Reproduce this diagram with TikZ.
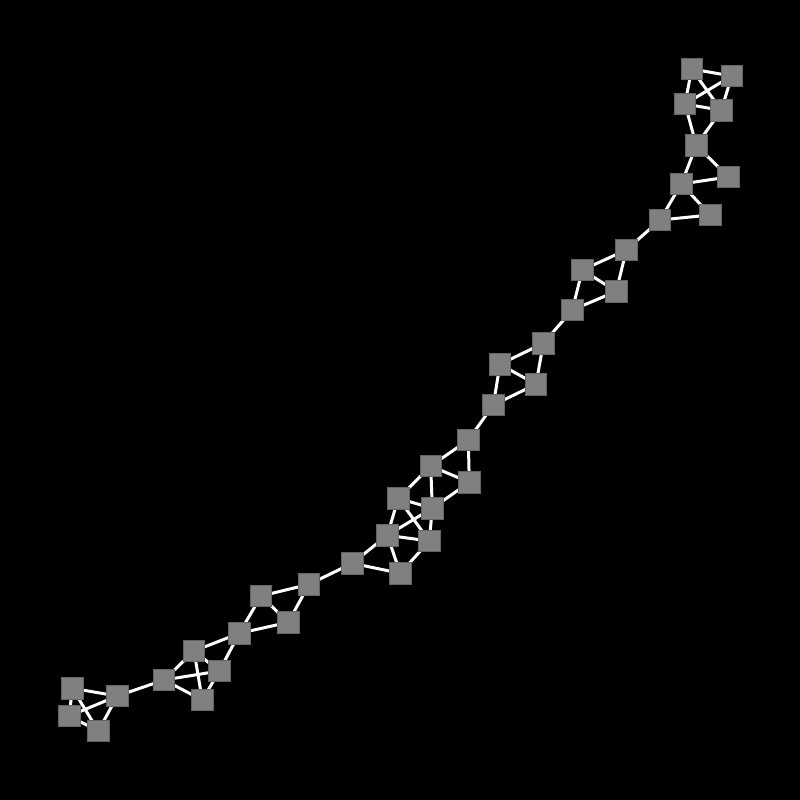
\documentclass[tikz,border=0pt]{standalone}
\begin{document}
\begin{tikzpicture}[x=0.01cm,y=-0.01cm,
  sq/.style={rectangle,fill={rgb,255:red,128;green,128;blue,128},draw={rgb,255:red,100;green,100;blue,100},line width=0.2pt,minimum size=0.215cm,inner sep=0pt},
  edge/.style={white,line width=0.03cm}]
\fill[black] (0,0) rectangle (800,800);
\useasboundingbox (0,0) rectangle (800,800);
% nodes
\foreach \n/\x/\y in {A/691.7/69,B/731.7/76,C/685/104,D/721.3/110.3,E/696.3/145.3,F/681.3/184,G/728.3/177,H/660/220,I/710.3/215,
J/626.3/250,K/582.3/270,L/616.3/291.3,M/572.3/310,N/543.3/343.3,O/500/364.3,P/536/384.3,Q/493.3/405,
R/468.3/440,S/430.7/466,T/469.3/482.3,U/398.3/498.3,V/432.3/508.3,W/387.3/535.3,X/429.3/541,Y/400.3/573.3,Z/352.3/563.3,
a/309/584.3,b/261/596,c/288.3/622.3,d/239.3/633.3,e/194/651,f/219.3/671,g/164/680,h/202.3/700,
j/117.3/696,k/72.3/688.3,l/69.3/716,m/98.3/731}
  {\coordinate (c\n) at (\x,\y);}
\foreach \u/\v in {A/B,A/C,A/D,B/C,B/D,C/D,C/E,D/E,E/F,E/G,F/G,F/H,F/I,H/I,H/J,
J/K,J/L,K/L,K/M,L/M,M/N,N/O,N/P,O/P,O/Q,P/Q,Q/R,
R/S,R/T,S/T,S/U,S/V,T/V,U/V,U/W,U/X,V/W,V/X,W/X,W/Y,X/Y,W/Z,Z/Y,
Z/a,a/b,a/c,b/c,b/d,c/d,d/e,d/f,e/f,e/h,e/g,g/f,g/h,f/h,
g/j,j/k,j/l,j/m,k/l,k/m,l/m}
  {\draw[edge] (c\u) -- (c\v);}
\foreach \n in {A,B,C,D,E,F,G,H,I,J,K,L,M,N,O,P,Q,R,S,T,U,V,W,X,Y,Z,a,b,c,d,e,f,g,h,j,k,l,m}
  {\node[sq] (\n) at (c\n) {};}
\end{tikzpicture}
\end{document}
